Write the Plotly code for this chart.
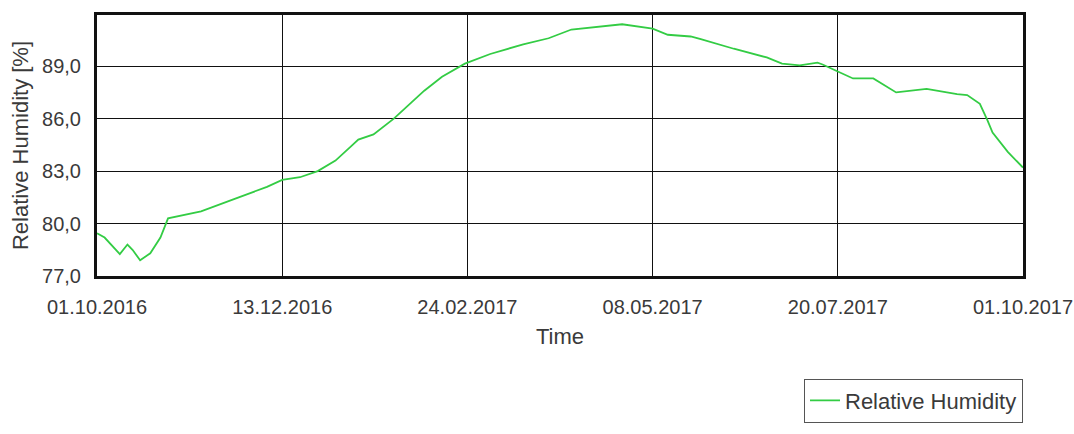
import plotly.graph_objects as go

dates = ["2016-10-01", "2016-10-04", "2016-10-10", "2016-10-13", "2016-10-15", "2016-10-18",
         "2016-10-22", "2016-10-26", "2016-10-29", "2016-11-03", "2016-11-11", "2016-11-24",
         "2016-12-07", "2016-12-13", "2016-12-20", "2016-12-27", "2017-01-03", "2017-01-09",
         "2017-01-12", "2017-01-18", "2017-01-26", "2017-02-07", "2017-02-14", "2017-02-23",
         "2017-03-05", "2017-03-18", "2017-03-28", "2017-04-06", "2017-04-20", "2017-04-26",
         "2017-05-08", "2017-05-14", "2017-05-23", "2017-05-27", "2017-06-09", "2017-06-22",
         "2017-06-28", "2017-07-05", "2017-07-12", "2017-07-14", "2017-07-20", "2017-07-26",
         "2017-08-03", "2017-08-12", "2017-08-24", "2017-09-05", "2017-09-09", "2017-09-14",
         "2017-09-17", "2017-09-19", "2017-09-25", "2017-10-01"]
humidity = [79.45, 79.2, 78.25, 78.8, 78.5, 77.9,
            78.3, 79.2, 80.3, 80.45, 80.7, 81.4,
            82.1, 82.5, 82.65, 83.0, 83.6, 84.4,
            84.8, 85.1, 86.0, 87.6, 88.4, 89.15,
            89.7, 90.25, 90.6, 91.1, 91.3, 91.4,
            91.15, 90.8, 90.7, 90.55, 90.0, 89.5,
            89.15, 89.05, 89.2, 89.1, 88.7, 88.3,
            88.3, 87.5, 87.7, 87.4, 87.35, 86.85,
            85.9, 85.2, 84.1, 83.2]

x_tick_vals = ["2016-10-01", "2016-12-13", "2017-02-24", "2017-05-08", "2017-07-20", "2017-10-01"]
x_tick_text = ["01.10.2016", "13.12.2016", "24.02.2017", "08.05.2017", "20.07.2017", "01.10.2017"]
y_tick_vals = [77, 80, 83, 86, 89]
y_tick_text = ["77,0", "80,0", "83,0", "86,0", "89,0"]

fig = go.Figure()
fig.add_trace(go.Scatter(x=dates, y=humidity, mode="lines", name="Relative Humidity",
                         line=dict(color="#33cc44", width=1.8)))

font_family = "Liberation Sans, Arial, sans-serif"
text_color = "#3a3a3a"
fig.update_layout(
    width=1074, height=434,
    margin=dict(l=97, r=51, t=15, b=144),
    plot_bgcolor="white", paper_bgcolor="white",
    font=dict(family=font_family, size=20, color=text_color),
    showlegend=True,
    legend=dict(x=1.0, xanchor="right", y=-0.393, yanchor="top",
                bordercolor="#555555", borderwidth=1, bgcolor="white",
                font=dict(size=22, color=text_color), itemwidth=30),
    xaxis=dict(type="date", range=["2016-10-01", "2017-10-01"],
               tickvals=x_tick_vals, ticktext=x_tick_text,
               showgrid=True, gridcolor="#111111", gridwidth=1.3,
               showline=True, linecolor="#111111", linewidth=3, mirror=True,
               ticks="", zeroline=False, automargin=False,
               ticklabelstandoff=11, ticklabeloverflow="allow",
               title=dict(text="Time", font=dict(size=22), standoff=12),
               tickfont=dict(size=20)),
    yaxis=dict(range=[77, 91.93], tickvals=y_tick_vals, ticktext=y_tick_text,
               showgrid=True, gridcolor="#111111", gridwidth=1.3,
               showline=True, linecolor="#111111", linewidth=3, mirror=True,
               ticks="", zeroline=False, automargin=False,
               ticklabelstandoff=9,
               title=dict(text="Relative Humidity [%]", font=dict(size=22), standoff=8),
               tickfont=dict(size=20)),
)

# remove the browser's default 8px page margin so the figure fills the window exactly
fig.write_html("out.html", config={"displayModeBar": False},
               post_script="document.body.style.margin='0px';")
